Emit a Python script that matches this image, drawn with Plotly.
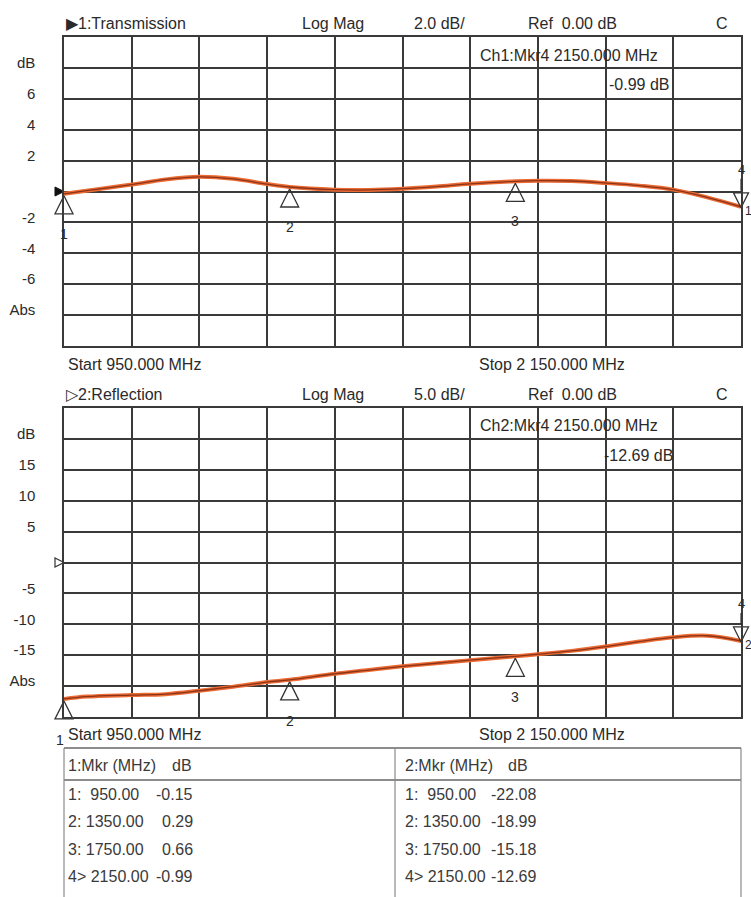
import plotly.graph_objects as go

# ---------------- data ----------------
freq = [950, 990, 1070, 1130, 1190, 1250, 1310, 1350, 1430, 1490, 1550,
        1610, 1670, 1750, 1790, 1850, 1910, 1970, 2030, 2090, 2150]
s21_db = [-0.15, 0.05, 0.45, 0.78, 0.95, 0.82, 0.48, 0.29, 0.12, 0.10, 0.18,
          0.32, 0.50, 0.66, 0.70, 0.68, 0.55, 0.38, 0.12, -0.38, -0.99]
s11_db = [-22.08, -21.7, -21.45, -21.3, -20.75, -20.1, -19.35, -18.99, -18.0, -17.4, -16.8,
          -16.3, -15.8, -15.18, -14.85, -14.3, -13.6, -12.8, -12.1, -11.85, -12.69]

mkr_freq = [950.00, 1350.00, 1750.00, 2150.00]
mkr_s21 = [-0.15, 0.29, 0.66, -0.99]
mkr_s11 = [-22.08, -18.99, -15.18, -12.69]
mkr_ids = ["1", "2", "3", "4"]

top_tickvals = [8, 6, 4, 2, 0, -2, -4, -6, -8]
top_ticktext = ["dB", "6", "4", "2", "", "-2", "-4", "-6", "Abs"]
bot_tickvals = [20, 15, 10, 5, 0, -5, -10, -15, -20]
bot_ticktext = ["dB", "15", "10", "5", "", "-5", "-10", "-15", "Abs"]

# ---------------- layout helpers ----------------
W, H = 751, 897
L, R, T, B = 64, 741, 37, 717
FONT = "Liberation Sans, Arial, sans-serif"
FS = 16
TXT = "#2a2a2a"
GRID = "#3a3a3a"


def px(x):
    return (x - L) / (R - L)


def py(y):
    return (B - y) / (B - T)


fig = go.Figure()

for xa, ya, vals in (("x", "y", s21_db), ("x2", "y2", s11_db)):
    fig.add_trace(go.Scatter(x=freq, y=vals, xaxis=xa, yaxis=ya, mode="lines",
                             line=dict(color="#ec6a33", width=4, shape="spline"),
                             hoverinfo="skip", showlegend=False))
    fig.add_trace(go.Scatter(x=freq, y=vals, xaxis=xa, yaxis=ya, mode="lines",
                             line=dict(color="#8c3418", width=1.3, shape="spline"),
                             showlegend=False))

axis_common = dict(showgrid=True, gridcolor=GRID, gridwidth=1.5, zeroline=False,
                   showline=True, mirror=True, linecolor=GRID, linewidth=1.5, ticks="",
                   automargin=False)
xcommon = dict(axis_common, range=[950, 2150], tick0=950, dtick=120, showticklabels=False)
ycommon = dict(axis_common, tickfont=dict(family=FONT, size=FS - 1, color=TXT),
               ticklabelshift=-5, ticklabelstandoff=24)

d_split_top = py(346)
d_split_bot = py(408)

fig.update_layout(
    width=W, height=H,
    margin=dict(l=L, r=W - R, t=T, b=H - B, pad=0, autoexpand=False),
    paper_bgcolor="white", plot_bgcolor="white",
    showlegend=False,
    xaxis=dict(xcommon, anchor="y"),
    yaxis=dict(ycommon, range=[-10, 10], tickvals=top_tickvals, ticktext=top_ticktext,
               domain=[d_split_top, 1], anchor="x"),
    xaxis2=dict(xcommon, anchor="y2"),
    yaxis2=dict(ycommon, range=[-25, 25], tickvals=bot_tickvals, ticktext=bot_ticktext,
                domain=[0, d_split_bot], anchor="x2"),
)

ann = []


def text(x, y, s, anchor="left", size=FS, color=TXT):
    ann.append(dict(x=px(x), y=py(y), xref="paper", yref="paper", text=s, showarrow=False,
                    xanchor=anchor, yanchor="middle",
                    font=dict(family=FONT, size=size, color=color)))


# headers
for y0, name, scale in ((23, "\u25B61:Transmission", "2.0 dB/"),
                        (394, "\u25B72:Reflection", "5.0 dB/")):
    text(64, y0, name)
    text(300, y0, "Log Mag")
    text(412, y0, scale)
    text(526, y0, "Ref  0.00 dB")
    text(722, y0, "C", anchor="center")
for y0, ch, val, vx in ((55, "Ch1", "-0.99 dB", 607), (425, "Ch2", "-12.69 dB", 602)):
    text(478, y0, ch + ":Mkr4 2150.000 MHz")
    text(vx, y0 + 30, val)
for y0 in (365, 735):
    text(66, y0, "Start 950.000 MHz")
    text(477, y0, "Stop 2 150.000 MHz")

# reference level arrows (at 0 dB on the left edge)
fig.add_trace(go.Scatter(x=[950], y=[0], xaxis="x", yaxis="y", mode="markers", cliponaxis=False,
                         marker=dict(symbol="arrow-right", size=9, color="#111",
                                     line=dict(color="#111", width=1)),
                         hoverinfo="skip", showlegend=False))
fig.add_trace(go.Scatter(x=[950], y=[0], xaxis="x2", yaxis="y2", mode="markers", cliponaxis=False,
                         marker=dict(symbol="arrow-right-open", size=9, color="#333",
                                     line=dict(color="#333", width=1.2)),
                         hoverinfo="skip", showlegend=False))

# markers
for xa, ya, vals, ch, lab_off in (("x", "y", mkr_s21, "1", -40), ("x2", "y2", mkr_s11, "2", -41)):
    fig.add_trace(go.Scatter(x=mkr_freq[:3], y=vals[:3], xaxis=xa, yaxis=ya, mode="markers",
                             cliponaxis=False,
                             marker=dict(symbol="arrow-up-open", size=18, standoff=2,
                                         color="#333", line=dict(color="#333", width=1.3)),
                             hoverinfo="skip", showlegend=False))
    fig.add_trace(go.Scatter(x=mkr_freq[3:], y=vals[3:], xaxis=xa, yaxis=ya, mode="markers",
                             cliponaxis=False,
                             marker=dict(symbol="arrow-down-open", size=15, standoff=1,
                                         color="#333", line=dict(color="#333", width=1.3)),
                             hoverinfo="skip", showlegend=False))
    for j, (f, v, mid) in enumerate(zip(mkr_freq[:3], vals[:3], mkr_ids[:3])):
        shift_x = -4 if (ch == "2" and j == 0) else 0
        ann.append(dict(x=f, y=v, xref=xa, yref=ya, text=mid, showarrow=False, yshift=lab_off,
                        xshift=shift_x, font=dict(family=FONT, size=14, color=TXT)))
    f, v, mid = mkr_freq[3], vals[3], mkr_ids[3]
    ann.append(dict(x=f, y=v, xref=xa, yref=ya, text=mid, showarrow=True, ax=0, ay=-37,
                    arrowhead=0, arrowwidth=1.2, arrowcolor="#333", standoff=16,
                    font=dict(family=FONT, size=13, color=TXT)))
    ann.append(dict(x=f, y=v, xref=xa, yref=ya, text=ch, showarrow=False, yshift=-4,
                    xshift=2, xanchor="left",
                    font=dict(family=FONT, size=12, color=TXT)))

# table
TL = "#8a8a8a"
for (x0, y0, x1, y1, c, w) in ((64, 748, 741, 748, "#666", 1.5), (64, 780, 741, 780, "#666", 1.5),
                               (64, 748, 64, 897, TL, 1.2), (395, 748, 395, 897, TL, 1.2),
                               (741, 748, 741, 897, TL, 1.2)):
    fig.add_shape(type="line", xref="paper", yref="paper", x0=px(x0), y0=py(y0),
                  x1=px(x1), y1=py(y1), line=dict(color=c, width=w))

TC = "#3a3a3a"
text(66, 765, "1:Mkr (MHz)", color=TC)
text(194, 765, "dB", anchor="right", color=TC)
text(403, 765, "2:Mkr (MHz)", color=TC)
text(530, 765, "dB", anchor="right", color=TC)
row_y = [794, 822, 849, 876]
for i, (f, a, b) in enumerate(zip(mkr_freq, mkr_s21, mkr_s11)):
    sep = ">" if i == len(mkr_freq) - 1 else ":"
    fs = f"{f:.2f}"
    lab = f"{mkr_ids[i]}{sep} {fs}" if len(fs) > 6 else f"{mkr_ids[i]}{sep}  {fs}"
    text(66, row_y[i], lab, color=TC)
    text(195, row_y[i], f"{a:.2f}", anchor="right", color=TC)
    text(403, row_y[i], lab, color=TC)
    text(538, row_y[i], f"{b:.2f}", anchor="right", color=TC)

fig.update_layout(annotations=ann)
fig.write_html("out.html", config={"displayModeBar": False},
               post_script="document.body.style.margin='0px';document.body.style.padding='0px';")
